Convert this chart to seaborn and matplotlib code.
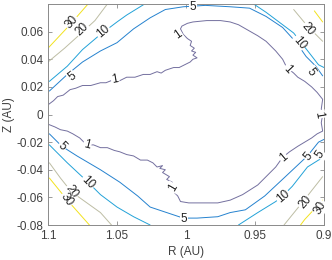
import numpy as np
import pandas as pd
import seaborn as sns
import matplotlib.pyplot as plt

# contour traces (R in AU, Z in AU)
levels = [1, 5, 10, 20, 30]
level_colors = {1: '#74709f', 5: '#2582cf', 10: '#22a2d8', 20: '#bdbda4', 30: '#f2e21e'}

# level 1, upper branch (left edge -> hook -> right edge)
r_c1_up = [1.100, 1.096, 1.093, 1.089, 1.084, 1.080, 1.075, 1.069, 1.062, 1.058, 1.053,
           1.049, 1.043, 1.037, 1.031, 1.026, 1.021, 1.018, 1.015, 1.009, 1.005, 1.001,
           0.997, 0.995, 0.992, 0.995, 0.993, 0.996, 0.994, 0.997, 0.996, 0.999, 1.002,
           1.004, 1.003, 0.999, 0.995, 0.985, 0.975, 0.968, 0.962, 0.955, 0.948, 0.942,
           0.935, 0.930, 0.927, 0.922, 0.919, 0.914, 0.909, 0.905, 0.901, 0.902, 0.901]
z_c1_up = [0.007, 0.010, 0.013, 0.014, 0.018, 0.019, 0.021, 0.021, 0.023, 0.023, 0.025,
           0.024, 0.027, 0.027, 0.029, 0.029, 0.031, 0.030, 0.032, 0.034, 0.034, 0.036,
           0.038, 0.040, 0.041, 0.043, 0.045, 0.046, 0.048, 0.050, 0.053, 0.055, 0.058,
           0.062, 0.064, 0.066, 0.067, 0.068, 0.068, 0.067, 0.065, 0.061, 0.057, 0.053,
           0.046, 0.040, 0.034, 0.030, 0.027, 0.024, 0.020, 0.016, 0.011, 0.004, 0.000]
# level 1, lower branch
r_c1_lo = [1.100, 1.095, 1.091, 1.086, 1.082, 1.077, 1.072, 1.067, 1.062, 1.057, 1.052,
           1.048, 1.043, 1.038, 1.033, 1.028, 1.024, 1.021, 1.017, 1.019, 1.015, 1.017,
           1.012, 1.014, 1.010, 1.009, 1.008, 1.006, 1.004, 0.998, 0.992, 0.977, 0.968,
           0.959, 0.948, 0.941, 0.935, 0.930, 0.925, 0.919, 0.914, 0.909, 0.905, 0.901,
           0.902, 0.901]
z_c1_lo = [-0.007, -0.009, -0.011, -0.012, -0.014, -0.017, -0.022, -0.022, -0.024, -0.024,
           -0.026, -0.027, -0.029, -0.030, -0.033, -0.033, -0.035, -0.038, -0.037, -0.039,
           -0.040, -0.042, -0.045, -0.047, -0.049, -0.053, -0.057, -0.059, -0.063, -0.064,
           -0.064, -0.064, -0.062, -0.058, -0.051, -0.044, -0.038, -0.031, -0.027, -0.023,
           -0.020, -0.017, -0.014, -0.012, -0.006, 0.000]

# level 5
r_c5_up = [1.099, 1.086, 1.075, 1.062, 1.050, 1.038, 1.026, 1.015, 1.002, 0.986, 0.968,
           0.954, 0.942, 0.930, 0.920, 0.913, 0.906, 0.901]
z_c5_up = [0.017, 0.029, 0.038, 0.046, 0.052, 0.062, 0.070, 0.076, 0.078, 0.079, 0.078,
           0.077, 0.071, 0.063, 0.052, 0.042, 0.035, 0.028]
r_c5_lo = [1.099, 1.090, 1.079, 1.062, 1.048, 1.035, 1.026, 1.017, 1.002, 0.992, 0.977,
           0.968, 0.957, 0.943, 0.928, 0.912, 0.904, 0.900]
z_c5_lo = [-0.014, -0.023, -0.030, -0.040, -0.049, -0.059, -0.067, -0.070, -0.075, -0.075,
           -0.074, -0.071, -0.069, -0.059, -0.045, -0.030, -0.020, -0.018]

# level 10
r_c10_ul = [1.099, 1.086, 1.075, 1.062, 1.050, 1.043, 1.030]
z_c10_ul = [0.024, 0.035, 0.047, 0.058, 0.067, 0.072, 0.080]
r_c10_ur = [0.951, 0.942, 0.930, 0.922, 0.911, 0.904, 0.900]
z_c10_ur = [0.080, 0.074, 0.065, 0.059, 0.045, 0.036, 0.034]
r_c10_ll = [1.099, 1.086, 1.071, 1.062, 1.050, 1.038, 1.026]
z_c10_ll = [-0.022, -0.035, -0.049, -0.058, -0.067, -0.074, -0.080]
r_c10_lr = [0.962, 0.948, 0.935, 0.930, 0.923, 0.912, 0.904, 0.900]
z_c10_lr = [-0.080, -0.071, -0.063, -0.059, -0.052, -0.038, -0.033, -0.031]

# level 20
r_c20_ul = [1.100, 1.088, 1.078, 1.066, 1.057]
z_c20_ul = [0.038, 0.048, 0.057, 0.068, 0.080]
r_c20_ur = [0.922, 0.912, 0.901]
z_c20_ur = [0.076, 0.064, 0.053]
r_c20_ll = [1.099, 1.091, 1.083, 1.062, 1.054]
z_c20_ll = [-0.035, -0.046, -0.056, -0.071, -0.080]
r_c20_lr = [0.929, 0.916, 0.901]
z_c20_lr = [-0.080, -0.064, -0.045]

# level 30
r_c30_ul = [1.100, 1.085, 1.071]
z_c30_ul = [0.048, 0.064, 0.080]
r_c30_ur = [0.907, 0.901]
z_c30_ur = [0.075, 0.067]
r_c30_ll = [1.099, 1.086, 1.070]
z_c30_ll = [-0.046, -0.062, -0.080]
r_c30_lr = [0.917, 0.914, 0.901]
z_c30_lr = [-0.080, -0.076, -0.062]

segments = [
    (1, r_c1_up, z_c1_up), (1, r_c1_lo, z_c1_lo),
    (5, r_c5_up, z_c5_up), (5, r_c5_lo, z_c5_lo),
    (10, r_c10_ul, z_c10_ul), (10, r_c10_ur, z_c10_ur),
    (10, r_c10_ll, z_c10_ll), (10, r_c10_lr, z_c10_lr),
    (20, r_c20_ul, z_c20_ul), (20, r_c20_ur, z_c20_ur),
    (20, r_c20_ll, z_c20_ll), (20, r_c20_lr, z_c20_lr),
    (30, r_c30_ul, z_c30_ul), (30, r_c30_ur, z_c30_ur),
    (30, r_c30_ll, z_c30_ll), (30, r_c30_lr, z_c30_lr),
]

# inline contour labels: R, Z, text, angle
label_r = [1.0826, 1.0754, 1.060, 1.0826, 1.0514, 0.995, 1.0058, 0.9267, 0.918, 0.9115,
           0.9093, 0.904, 1.0717, 1.0899, 1.071, 1.0826, 1.0862, 1.0094, 1.0014, 0.9296,
           0.9115, 0.9028, 0.9296, 0.9137, 0.9028]
label_z = [0.0666, 0.0615, 0.060, 0.0275, 0.0253, 0.0775, 0.058, 0.0326, 0.052, 0.0615,
           0.031, 0.0, -0.0224, -0.0232, -0.0492, -0.0557, -0.0615, -0.0528, -0.0753, -0.0311,
           -0.0304, -0.029, -0.0594, -0.0637, -0.0673]
label_txt = ['30', '20', '10', '5', '1', '5', '1', '1', '10', '20',
             '5', '1', '1', '5', '10', '20', '30', '1', '5', '1',
             '5', '5', '10', '20', '30']
label_rot = [48, 44, 40, 37, 10, 0, 35, -47, -50, -50,
             -55, -80, -15, -45, -45, -55, -55, 60, 0, 40,
             50, 55, 40, 50, 60]

xticks = [1.1, 1.05, 1.0, 0.95, 0.9]
xticklabels = ['1.1', '1.05', '1', '0.95', '0.9']
yticks = [-0.08, -0.06, -0.04, -0.02, 0.0, 0.02, 0.04, 0.06]
yticklabels = ['-0.08', '-0.06', '-0.04', '-0.02', '0', '0.02', '0.04', '0.06']

sns.set_style('white')
plt.rcParams['font.family'] = ['Liberation Sans', 'DejaVu Sans']

fig = plt.figure(figsize=(3.32, 2.6), dpi=100)
ax = fig.add_axes([0.1446, 0.1346, 0.8314, 0.8500])

for lev, rr, zz in segments:
    seg = pd.DataFrame({'R': rr, 'Z': zz})
    sns.lineplot(data=seg, x='R', y='Z', sort=False, estimator=None,
                 color=level_colors[lev], linewidth=0.7, ax=ax)

for r, z, t, rot in zip(label_r, label_z, label_txt, label_rot):
    ax.text(r, z, t, rotation=rot, rotation_mode='anchor', ha='center', va='center',
            fontsize=8.5, color='#222222',
            bbox=dict(facecolor='white', edgecolor='none', pad=0.6), zorder=5)

ax.set_xlim(1.1, 0.9)
ax.set_ylim(-0.08, 0.08)
ax.set_xticks(xticks)
ax.set_xticklabels(xticklabels)
ax.set_yticks(yticks)
ax.set_yticklabels(yticklabels)
ax.tick_params(direction='in', length=3, width=0.6, colors='#8a8a8a',
               labelcolor='#404040', labelsize=8.5, top=True, right=True,
               bottom=True, left=True)
for s in ax.spines.values():
    s.set_color('#8a8a8a')
    s.set_linewidth(0.7)

ax.set_xlabel('R (AU)', fontsize=8.5, color='#404040', labelpad=3)
ax.set_ylabel('Z (AU)', fontsize=8.5, color='#404040', labelpad=1)

fig.savefig('out.png', dpi=100)
